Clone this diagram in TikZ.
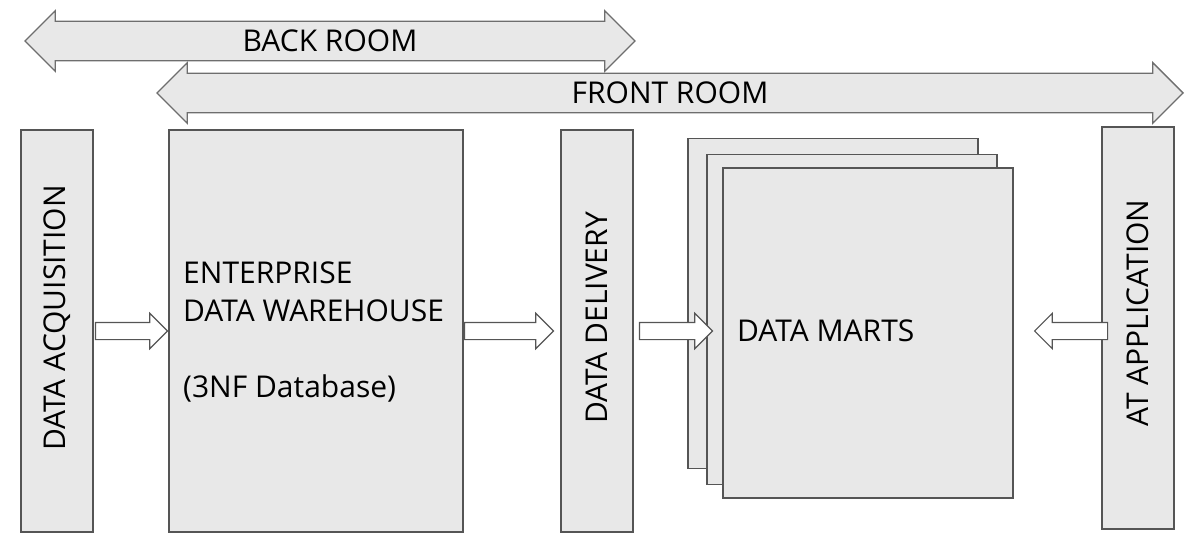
\documentclass[tikz,border=0pt]{standalone}
\usepackage{fontspec}
\setmainfont{Open Sans}
\usetikzlibrary{shapes.arrows,positioning,calc}
\definecolor{boxgray}{HTML}{E8E8E8}
\definecolor{linegray}{HTML}{555555}
\tikzstyle{box}=[draw=linegray,fill=boxgray,line width=1.5pt,inner sep=0pt]
\tikzstyle{room}=[double arrow,draw=linegray!85,fill=boxgray,line width=1.4pt,
  inner xsep=0pt,inner ysep=8pt,double arrow head extend=10.5pt,
  font=\fontsize{30}{36}\selectfont]
\tikzstyle{flow}=[single arrow,draw=linegray,fill=white,line width=1.2pt,
  inner xsep=0pt,inner ysep=8pt,single arrow head extend=9pt]
\tikzstyle{txt}=[font=\fontsize{30}{38}\selectfont,inner sep=0pt]

\begin{document}
\begin{tikzpicture}[x=1pt, y=-1pt]
  \useasboundingbox (0,0) rectangle (1200,548);

  % back room / front room
  \node[room, minimum height=610pt]  (back)  at (330,41) {BACK ROOM};
  \node[room, minimum height=1026pt] (front) at (670,93) {FRONT ROOM};

  % stages
  \node[box, minimum width=72pt, minimum height=402pt]  (acq) at (57,331) {};
  \node[box, minimum width=294pt, minimum height=402pt] (edw) at (316,331) {};
  \node[box, minimum width=72pt, minimum height=402pt]  (dlv) at (597,331) {};
  \node[box, minimum width=290pt, minimum height=330pt] (mart1) at (833,303.5) {};
  \node[box, minimum width=290pt, minimum height=330pt] (mart2) at (852,319.5) {};
  \node[box, minimum width=290pt, minimum height=330pt] (mart3) at (868,333) {};
  \node[box, minimum width=72pt, minimum height=402pt]  (app) at (1138,328) {};

  \node[txt, rotate=90] (acqtxt) at (57,318) {DATA ACQUISITION};
  \node[txt, rotate=90] (dlvtxt) at (597,318) {DATA DELIVERY};
  \node[txt, rotate=90] (apptxt) at (1138,313) {AT APPLICATION};
  \node[txt, anchor=north west, align=left] (edwtxt) at (183,262)
    {ENTERPRISE\\DATA WAREHOUSE\\[38pt](3NF Database)};
  \node[txt, anchor=west] (marttxt) at (737,331) {DATA MARTS};

  % flows
  \node[flow, minimum height=72pt, anchor=tip] (f1) at (edw.west) {};
  \node[flow, minimum height=89pt, anchor=tip] (f2) at ($(dlv.west)+(-6,0)$) {};
  \node[flow, minimum height=73pt, anchor=tip] (f3) at ($(mart3.west)+(-9,-2)$) {};
  \node[flow, minimum height=73pt, shape border rotate=180, anchor=tip]
    (f4) at ($(mart3.east)+(20,-2)$) {};
\end{tikzpicture}
\end{document}
